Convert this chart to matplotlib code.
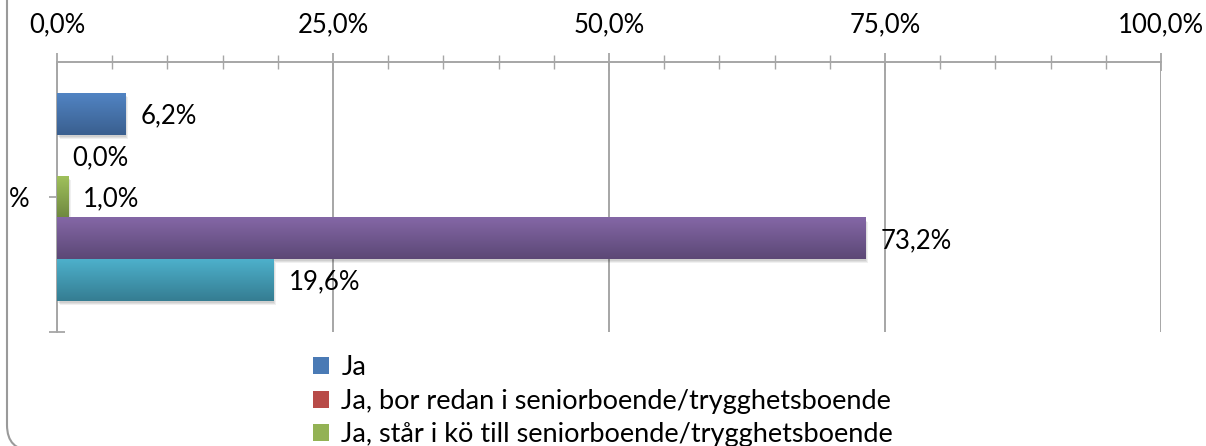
import numpy as np
import matplotlib
matplotlib.use("Agg")
import matplotlib.pyplot as plt
from matplotlib.colors import LinearSegmentedColormap
from matplotlib.patches import FancyBboxPatch, Rectangle, Patch
from matplotlib.transforms import IdentityTransform, offset_copy

# ---- data ----
category = "%"
series_values = [6.2, 0.0, 1.0, 73.2, 19.6]
series_colors_top = ["#5184C3", "#C4524F", "#9FC05B", "#8467A6", "#4DB0CB"]
series_colors_bottom = ["#3A5F8F", "#8E3B39", "#6F8840", "#5C4876", "#357D92"]
legend_labels = ["Ja",
                 "Ja, bor redan i seniorboende/trygghetsboende",
                 "Ja, står i kö till seniorboende/trygghetsboende"]
legend_colors = ["#4A7AB5", "#B84B48", "#93B254"]
xticks_major = [0, 25, 50, 75, 100]
xtick_labels = ["0,0%", "25,0%", "50,0%", "75,0%", "100,0%"]

W, H = 1206, 446
FS = 18.5
plt.rcParams['font.family'] = ['Lato', 'DejaVu Sans']
fig = plt.figure(figsize=(W / 100, H / 100), dpi=100)
ax = fig.add_axes([57 / W, 1 - 332 / H, (1161 - 57) / W, (332 - 62) / H])

n = len(series_values)
bar_h = 0.767 / n
gray = "#A6A6A6"

for i, v in enumerate(series_values):
    yc = (i - (n - 1) / 2) * bar_h
    y0, y1 = yc - bar_h / 2, yc + bar_h / 2
    if v > 0:
        # soft shadow
        for k, a in enumerate([0.07, 0.07, 0.06]):
            sh = Rectangle((0, y0), v, bar_h, facecolor="#000000", alpha=a,
                           edgecolor="none", zorder=2.5,
                           transform=offset_copy(ax.transData, fig=fig, x=1 + k, y=-(2 + k), units='dots'))
            ax.add_patch(sh)
        cmap = LinearSegmentedColormap.from_list("g%d" % i, [series_colors_top[i], series_colors_bottom[i]])
        grad = np.linspace(0, 1, 64).reshape(-1, 1)
        ax.imshow(grad, extent=[0, v, y1, y0], origin='upper', aspect='auto', cmap=cmap, zorder=3,
                  interpolation='bilinear')
    ax.annotate(f"{v:.1f}%".replace(".", ","), xy=(v, yc), xytext=(11, -1.5), textcoords='offset points',
                ha='left', va='center', fontsize=FS, color='black', zorder=5)

ax.set_xlim(0, 100)
ax.set_ylim(0.5, -0.5)
ax.set_aspect('auto')

ax.xaxis.tick_top()
ax.set_xticks(xticks_major)
ax.set_xticklabels(xtick_labels)
ax.set_xticks(np.arange(0, 101, 5), minor=True)
ax.tick_params(axis='x', which='major', direction='inout', length=13, width=1.3, color=gray,
               labelsize=FS, pad=11)
ax.tick_params(axis='x', which='minor', direction='inout', length=10, width=1.0, color=gray)
ax.set_yticks([0, 0.5])
ax.set_yticklabels([category, ""])
ax.tick_params(axis='y', which='major', direction='inout', length=12, width=1.3, color=gray,
               labelsize=FS, pad=14)
ax.grid(axis='x', which='major', color=gray, linewidth=1.4, zorder=1)
ax.set_axisbelow(True)
for s in ['right', 'bottom']:
    ax.spines[s].set_visible(False)
for s in ['top', 'left']:
    ax.spines[s].set_color(gray)
    ax.spines[s].set_linewidth(1.4)

handles = [Patch(facecolor=c, edgecolor='none') for c in legend_colors]
fig.legend(handles, legend_labels, loc='upper left', bbox_to_anchor=(313 / W, 1 - 355 / H),
           frameon=False, fontsize=19.5, handlelength=0.6, handleheight=0.6, handletextpad=0.45,
           labelspacing=0.32, borderaxespad=0, borderpad=0)

frame = FancyBboxPatch((7, -4.5), 3000, 2000, boxstyle="round,pad=0,rounding_size=25.5",
                       transform=IdentityTransform(), facecolor='none', edgecolor="#9A9A9A",
                       linewidth=1.5)
fig.add_artist(frame)

fig.savefig("out.png", dpi=100)
